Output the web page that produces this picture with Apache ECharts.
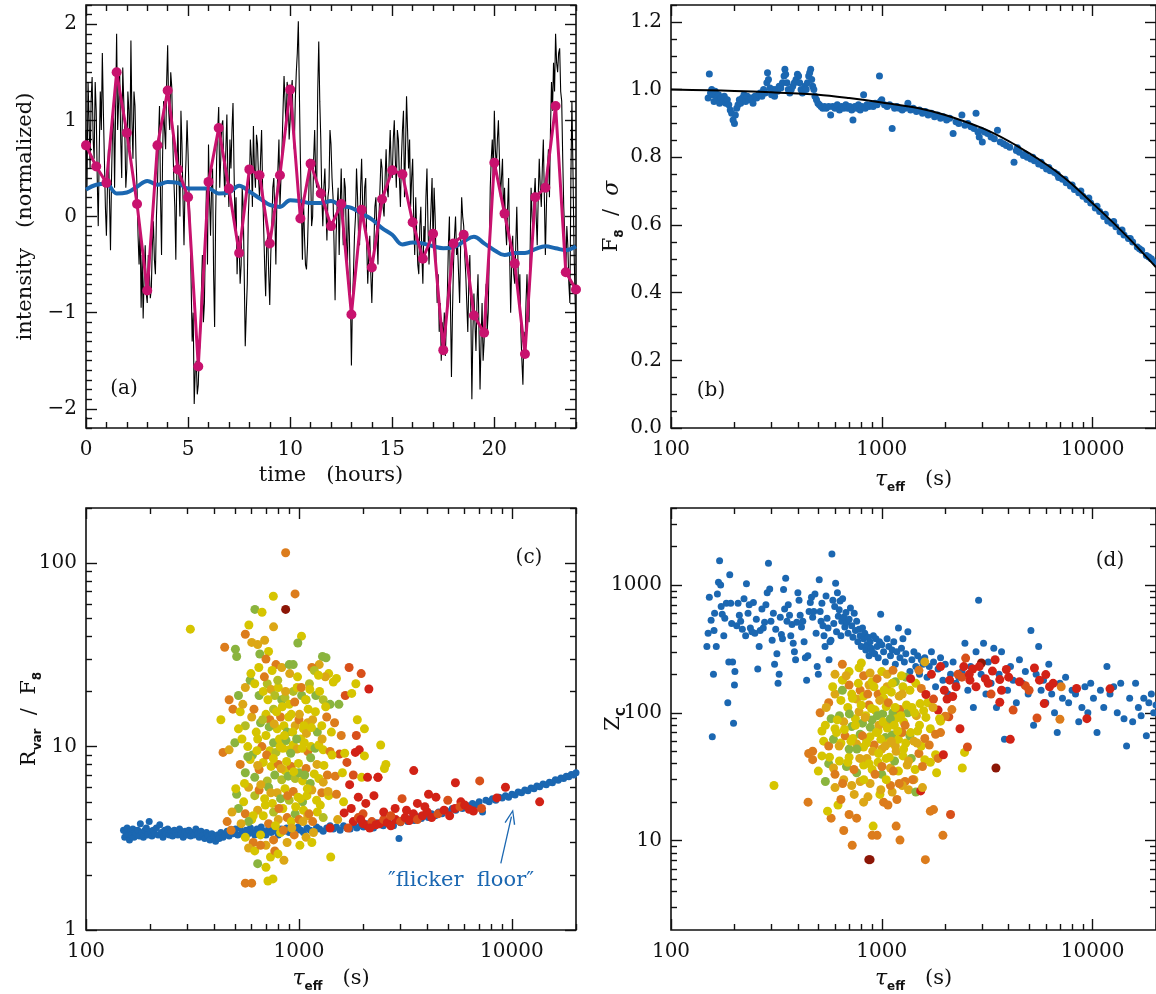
<!DOCTYPE html>
<html><head><meta charset="utf-8">
<script src="https://cdn.jsdelivr.net/npm/echarts@6/dist/echarts.min.js"></script>
<style>html,body{margin:0;padding:0;background:#fff}#c{width:1156px;height:994px}</style>
</head><body><div id="c"></div>
<script>
// ---------- DATA ----------
// (a) light curve sampled every 0.05 h
const lcStep = 0.05;
const lcBlack = [
0.9,0.3,1.4,1.0,0.5,1.2,1.45,0.8,0.6,1.4,1.1,0.4,-0.1,0.7,1.3,0.9,1.7,1.1,0.6,0.1,
-0.2,0.3,0.7,0.2,-0.35,0.4,0.9,1.2,0.3,1.1,1.9,0.9,1.2,1.5,0.8,0.4,1.55,1.2,0.9,0.3,
0.5,1.3,1.1,0.7,1.83,1.0,0.6,1.3,1.15,0.6,0.3,-0.2,-0.5,-0.1,-0.95,-0.4,-1.06,-0.6,-0.3,-0.8,
-0.9,-0.4,-0.55,-0.85,-0.75,-0.3,-0.05,-0.45,-0.6,0.0,0.3,0.8,1.15,0.2,-0.4,0.6,1.2,0.9,0.7,1.4,
1.78,1.1,0.9,1.5,1.35,0.8,0.4,0.1,-0.45,0.5,0.95,0.4,0.0,1.1,0.75,0.2,-0.3,0.3,0.6,1.0,
0.65,0.2,-0.1,-0.7,-1.3,-1.0,-1.95,-1.6,-1.5,-1.85,-1.75,-1.4,-1.3,-0.8,-0.4,-1.1,-0.9,-0.2,0.3,-0.5,
0.75,0.2,-0.2,0.3,0.5,-0.6,-1.15,0.0,0.6,0.9,1.14,0.3,0.6,0.95,1.0,0.5,0.2,0.7,1.06,0.4,
0.1,0.8,0.5,0.9,1.18,0.5,-0.1,0.2,-0.6,-0.2,-0.3,-0.7,-0.5,0.3,0.1,-0.6,-1.35,-1.0,-0.7,0.0,
0.3,0.8,0.6,0.1,0.94,0.5,0.3,0.85,0.75,0.4,0.2,0.6,0.9,0.3,-0.1,-0.5,-0.83,-0.3,-0.2,-0.6,
-0.92,-0.4,-0.1,0.3,0.4,0.0,-0.5,0.2,0.5,0.8,0.1,0.4,0.7,1.1,1.46,1.2,0.9,1.4,1.3,0.8,
1.0,1.3,1.42,0.9,0.7,1.2,1.5,1.7,2.03,1.3,0.6,0.1,-0.45,0.2,-0.2,-0.5,-0.55,-0.3,0.1,0.6,
0.5,-0.1,0.0,0.6,0.9,0.4,0.3,1.3,1.82,1.2,0.8,0.2,-0.1,0.3,0.5,0.1,-0.25,0.2,0.3,0.9,
0.75,0.4,0.2,-0.3,-0.87,-0.2,0.1,0.3,-0.4,0.1,0.5,0.0,-0.3,0.4,0.3,-0.2,-0.6,0.1,-0.2,-0.8,
-1.55,-0.9,-0.6,-0.2,0.0,0.5,0.2,-0.2,-0.3,0.3,0.6,0.1,-0.1,0.3,0.4,-0.3,-0.7,-0.4,-0.2,-0.6,
-0.9,-0.5,-0.3,0.1,0.2,-0.2,-0.5,0.0,0.3,0.6,0.5,0.1,0.0,0.4,0.7,0.3,0.2,0.6,0.9,0.5,
0.4,0.8,1.0,0.6,0.3,0.9,0.8,0.4,0.1,0.6,0.9,1.1,0.2,0.7,1.25,0.9,0.5,0.8,0.1,0.4,
0.6,0.0,-0.4,0.2,-0.2,-0.5,-0.6,-0.1,0.1,-0.4,-0.7,-0.1,-0.3,0.2,0.5,-0.1,-0.5,-0.2,0.1,0.4,
-0.3,0.3,0.0,-0.5,-0.9,-0.6,-1.2,-0.9,-1.5,-1.1,-1.3,-1.0,-1.45,-1.1,-0.8,-0.3,0.0,-0.9,-1.67,-1.0,
-0.5,-0.2,0.0,-0.4,-0.3,-0.6,-0.9,-0.3,0.2,0.0,-0.1,-0.4,-0.6,-0.9,-1.2,-0.7,-0.4,-1.0,-1.9,-1.2,
-0.8,-1.1,-1.4,-0.9,-0.6,-1.2,-1.8,-1.3,-0.9,-1.5,-1.3,-0.9,-0.7,-1.2,-1.0,-0.4,0.3,0.6,0.8,0.4,
1.1,0.7,0.5,0.8,1.0,0.6,0.2,0.4,0.6,0.0,0.3,-0.1,-0.3,0.1,0.4,-0.4,-1.0,-0.5,-0.2,-0.6,
-0.7,-0.3,0.1,-0.4,-0.9,-0.6,-1.2,-1.5,-1.75,-1.2,-1.4,-0.9,-0.6,-1.0,-1.1,-0.4,0.3,0.0,-0.2,0.2,
0.4,0.0,-0.3,0.2,0.6,0.3,0.1,0.5,0.8,0.2,-0.4,0.1,0.5,0.7,0.2,0.9,1.4,1.1,1.6,1.3,
1.9,1.6,1.5,1.7,1.75,1.3,1.2,0.6,0.1,-0.2,-0.6,-0.1,-0.3,-0.7,-0.9,0.4,1.2,0.5,-0.3,-0.8,
-1.2];
// (a) half-hour binned values and smooth trend, every 0.5 h
const binStep = 0.5;
const lcBinned = [0.74,0.52,0.35,1.50,0.87,0.13,-0.77,0.74,1.31,0.49,0.20,-1.56,0.36,0.92,0.29,-0.38,0.49,0.43,-0.28,0.43,1.32,-0.02,0.55,0.24,-0.10,0.13,-1.02,0.07,-0.53,0.18,0.48,0.44,-0.06,-0.44,-0.18,-1.39,-0.28,-0.19,-1.03,-1.21,0.56,0.03,-0.49,-1.43,0.20,0.30,1.15,-0.58,-0.76];
const lcTrend = [0.28,0.33,0.34,0.24,0.25,0.31,0.37,0.33,0.36,0.35,0.29,0.29,0.29,0.24,0.25,0.32,0.26,0.19,0.12,0.10,0.17,0.16,0.14,0.14,0.16,0.11,0.09,0.03,-0.03,-0.12,-0.19,-0.29,-0.27,-0.28,-0.31,-0.33,-0.32,-0.26,-0.21,-0.28,-0.35,-0.40,-0.38,-0.38,-0.34,-0.31,-0.33,-0.35,-0.31];

// (b) F8/sigma vs tau_eff
const bPoints = [[150,0.975],[152,1.046],[154,0.99],[156,1.0],[158,0.985],[160,0.965],[162,0.995],[165,0.97],[168,0.985],[170,0.96],[173,0.975],[176,0.965],[179,0.98],[182,0.96],[185,0.97],[188,0.955],[191,0.94],[194,0.93],[197,0.91],[200,0.90],[202,0.925],[205,0.945],[208,0.955],[211,0.97],[214,0.96],[218,0.975],[222,0.985],[226,0.965],[230,0.98],[235,0.97],[240,0.975],[245,0.96],[250,0.98],[255,0.975],[260,0.985],[265,0.99],[270,0.98],[275,1.0],[280,0.99],[285,1.02],[287,1.05],[290,1.03],[295,1.005],[300,0.985],[305,1.0],[310,0.98],[315,1.0],[320,0.995],[326,1.01],[332,1.005],[338,1.02],[344,1.04],[347,1.06],[350,1.045],[355,1.02],[360,1.0],[366,0.99],[372,1.0],[378,1.01],[385,1.02],[392,1.03],[398,1.045],[403,1.04],[408,1.02],[414,1.0],[420,0.99],[426,1.0],[432,1.01],[438,1.0],[444,1.02],[450,1.04],[455,1.05],[460,1.06],[465,1.03],[470,1.01],[476,1.0],[482,0.98],[490,0.97],[498,0.96],[506,0.955],[515,0.95],[525,0.945],[535,0.95],[545,0.945],[560,0.95],[572,0.925],[585,0.95],[600,0.945],[615,0.955],[630,0.94],[645,0.95],[660,0.945],[675,0.955],[690,0.945],[705,0.95],[720,0.94],[730,0.91],[745,0.95],[760,0.945],[775,0.955],[790,0.94],[805,0.95],[820,0.985],[835,0.945],[850,0.955],[870,0.95],[890,0.955],[910,0.95],[930,0.96],[950,0.955],[975,1.04],[985,0.965],[1000,0.97],[1030,0.955],[1060,0.95],[1090,0.955],[1120,0.885],[1150,0.945],[1180,0.95],[1210,0.945],[1250,0.94],[1290,0.945],[1330,0.96],[1370,0.94],[1410,0.945],[1460,0.935],[1510,0.94],[1560,0.93],[1610,0.935],[1660,0.925],[1720,0.93],[1780,0.92],[1840,0.925],[1900,0.915],[1960,0.92],[2030,0.91],[2100,0.915],[2180,0.87],[2250,0.905],[2320,0.9],[2400,0.925],[2480,0.895],[2560,0.9],[2650,0.89],[2740,0.885],[2800,0.93],[2860,0.875],[2900,0.86],[2960,0.88],[3000,0.845],[3080,0.875],[3180,0.87],[3300,0.86],[3420,0.855],[3540,0.88],[3650,0.845],[3780,0.84],[3900,0.835],[4050,0.83],[4240,0.785],[4350,0.82],[4500,0.815],[4700,0.805],[4900,0.8],[5100,0.795],[5300,0.79],[5550,0.78],[5800,0.775],[6050,0.765],[6300,0.76],[6600,0.755],[6900,0.74],[7200,0.735],[7500,0.725],[7850,0.715],[8200,0.705],[8600,0.695],[9000,0.685],[9400,0.675],[9800,0.665],[10300,0.65],[10800,0.64],[11300,0.625],[11800,0.612],[12300,0.605],[12900,0.595],[13500,0.58],[14100,0.57],[14800,0.56],[15500,0.55],[16300,0.535],[17100,0.525],[18000,0.51],[19000,0.5],[20000,0.49],
[4400,0.828],[4800,0.81],[5200,0.8],[5700,0.785],[6200,0.77],[6800,0.75],[7400,0.735],[8000,0.718],[8800,0.7],[9600,0.68],[10500,0.655],[11500,0.632],[12600,0.61],[13800,0.585],[15100,0.56],[16700,0.53],[18500,0.505]];
const bCurve = [[100,1.0],[150,0.998],[200,0.996],[300,0.992],[500,0.985],[700,0.975],[1000,0.962],[1500,0.945],[2000,0.925],[3000,0.886],[4000,0.848],[5000,0.812],[6000,0.78],[7000,0.75],[8000,0.72],[10000,0.664],[12000,0.618],[15000,0.558],[20000,0.475]];

// (c) Rvar/F8 vs tau_eff : flicker floor (blue) and colored stars [tau, value, colour class 0..7]
const cFloor = [[150,3.5],[152,3.2],[154,3.4],[156,3.6],[158,3.3],[160,3.1],[162,3.45],[164,3.3],[166,3.55],[168,3.2],[170,3.4],[172,3.35],[175,3.5],[178,3.25],[180,3.8],[183,3.4],[186,3.2],[189,3.5],[192,3.6],[195,3.3],[198,3.9],[201,3.45],[204,3.25],[207,3.5],[210,3.35],[214,3.6],[218,3.3],[222,3.75],[226,3.4],[230,3.2],[234,3.5],[238,3.35],[242,3.55],[246,3.3],[250,3.45],[255,3.25],[260,3.5],[265,3.4],[270,3.3],[275,3.55],[280,3.35],[286,3.2],[292,3.45],[298,3.3],[304,3.5],[310,3.25],[316,3.4],[322,3.3],[328,3.55],[334,3.35],[340,3.2],[347,3.45],[354,3.3],[361,3.15],[368,3.4],[375,3.25],[382,3.1],[390,3.35],[398,3.2],[406,3.05],[414,3.3],[422,3.15],[430,3.4],[440,3.2],[450,3.3],[460,3.45],[470,3.25],[480,3.5],[492,3.35],[504,3.55],[516,3.3],[528,3.6],[540,3.4],[552,3.25],[565,3.5],[578,3.35],[592,3.6],[606,3.4],[620,3.3],[635,3.55],[650,3.4],[665,3.65],[680,3.45],[700,3.3],[720,3.55],[740,3.4],[760,3.6],[780,3.45],[800,3.3],[825,3.55],[850,3.45],[875,3.6],[900,3.4],[930,3.55],[960,3.45],[990,3.65],[1020,3.5],[1050,3.4],[1090,3.6],[1130,3.5],[1170,3.45],[1210,3.65],[1250,3.55],[1300,3.45],[1350,3.6],[1400,3.7],[1450,3.55],[1500,3.65],[1560,3.5],[1620,3.7],[1680,3.6],[1740,3.55],[1800,3.75],[1870,3.6],[1940,3.7],[2010,3.65],[2080,3.8],[2160,3.7],[2240,3.6],[2320,3.85],[2400,3.75],[2490,3.7],[2580,3.9],[2680,3.8],[2780,3.7],[2880,3.95],[2950,3.15],[3000,3.85],[3120,4.0],[3240,3.9],[3360,4.05],[3480,3.95],[3620,4.15],[3760,4.05],[3900,4.2],[4050,4.1],[4200,4.3],[4360,4.2],[4530,4.4],[4700,4.3],[4880,4.5],[5060,4.4],[5250,4.6],[5450,4.5],[5650,4.7],[5860,4.6],[6080,4.8],[6300,4.75],[6530,4.9],[6770,4.8],[7020,5.0],[7280,4.4],[7550,5.1],[7820,5.0],[8100,5.2],[8400,5.1],[8700,5.3],[9000,5.25],[9330,5.4],[9650,5.3],[10000,5.5],[10350,5.45],[10700,5.65],[11100,5.6],[11500,5.8],[11900,5.75],[12300,5.95],[12700,5.9],[13100,6.1],[13500,6.05],[14000,6.25],[14500,6.2],[15000,6.4],[15500,6.35],[16000,6.6],[16500,6.55],[17000,6.75],[17500,6.7],[18000,6.9],[18500,6.85],[19000,7.05],[19500,7.0],[20000,7.2]];
const cStars = [[309,43.7,2],[866,114,4],[866,56,7],[758,66,2],[959,68,4],[621,56,0],[671,54,2],[582,46,2],[760,45,3],[1028,40,2],[988,36.7,0],[448,34.8,4],[503,34,0],[510,31,0],[1290,31,0],[1340,30.5,0],[1245,28,3],[560,41,4],[600,37,3],[640,36,3],[690,38,3],[720,33,2],[655,32,0],[700,30,4],[780,28,4],[830,27,3],[900,28,0],[940,28,0],[1150,27,4],[1180,26,1],[1380,25,2],[1500,23.5,2],[1720,27,5],[1960,25,5],[2130,20.6,6],[1650,19,5],[1770,19.5,2],[1850,22,2],
[470,18,4],[520,19,0],[560,21,3],[590,23,0],[620,22,2],[650,19,0],[680,20,2],[710,22,1],[740,20.5,3],[770,19,1],[800,21,2],[830,18,0],[860,18.5,1],[900,17,2],[940,20,1],[980,21,2],[1030,19,0],[1080,18,0],[1120,22,1],[1200,19,0],[1250,20,2],[1300,18,1],[1400,17,0],[1450,22.5,2],[1540,17,0],[1330,24,3],
[430,14,2],[490,16,4],[530,15.5,2],[560,13,1],[600,14.5,3],[630,12,2],[660,13.5,0],[700,15,2],[730,14,4],[760,16,1],[790,12.5,2],[820,14.5,4],[850,13,2],[880,12,0],[920,15,2],[960,13,3],[1000,14,4],[1050,12.5,2],[1100,13.5,3],[1160,14,3],[1220,12,0],[1280,13,2],[1350,14.5,4],[1420,12,2],[1880,14,2],[2030,12.5,2],[1860,11.5,5],
[440,9.3,4],[470,9.6,3],[500,10.5,0],[540,11,2],[575,10,2],[605,9,0],[640,11,2],[670,10,4],[700,11.5,2],[730,9.5,2],[760,10.5,0],[780,9.3,1],[810,11,2],[840,9.8,2],[870,10.8,0],[900,9.6,2],[940,10.2,2],[980,9.7,3],[1020,11,2],[1060,10.5,2],[1100,9.4,4],[1140,10,2],[1190,9.8,0],[1240,10.2,2],[1300,9.6,2],[1400,9.4,4],[1550,9.1,5],[1640,9.2,2],[1920,9.6,6],[2030,8.9,2],[2420,10.2,2],[2560,8.0,2],[2520,7.6,2],
[530,8,4],[560,7.2,0],[590,8.5,2],[620,6.8,0],[650,7.5,4],[680,8.2,2],[710,6.5,1],[740,7.8,2],[770,7.0,0],[800,8,4],[830,6.6,1],[860,7.4,2],[890,6.9,0],[920,7.8,4],[960,6.7,1],[1000,7.2,0],[1040,6.5,2],[1080,7.6,4],[1130,6.3,0],[1180,7.1,2],[1240,6.7,2],[1300,6.4,3],[1360,7.0,4],[1480,6.9,4],[1600,7.2,2],[1800,7.0,5],[1970,6.8,2],[2100,6.8,6],[2350,6.8,6],
[510,5.5,0],[550,5.0,2],[580,6.0,3],[620,5.4,1],[650,5.8,4],[690,5.2,2],[720,6.0,0],[750,4.9,2],[790,5.6,3],[820,5.2,0],[860,5.9,2],[900,5.1,1],[940,5.7,4],[990,5.3,2],[1040,5.0,0],[1090,5.4,2],[1150,5.8,3],[1210,5.1,2],[1280,5.6,4],[1380,5.4,2],[1500,5.5,4],[1620,5.0,2],[1730,6.2,6],[1900,5.3,6],
[520,4.6,0],[560,4.3,4],[600,4.0,2],[640,4.5,3],[680,4.2,2],[720,3.8,4],[760,4.4,1],[800,4.0,3],[840,4.6,2],[880,4.1,4],[920,3.9,2],[960,4.3,0],[1000,4.0,4],[1050,4.5,2],[1100,4.2,3],[1160,3.9,4],[1220,4.4,2],[1300,4.1,1],[1400,3.6,6],[1630,4.35,6],
[480,3.5,4],[560,3.2,2],[610,3.0,4],[660,3.3,2],[700,2.9,3],[760,3.1,4],[820,3.4,2],[880,3.0,3],[950,3.3,4],[1010,2.9,2],[1080,3.2,3],[1150,3.0,2],
[580,2.8,3],[620,2.7,2],[660,2.9,4],[700,2.2,2],[735,2.5,2],[770,2.7,4],[797,2.6,2],[850,2.4,3],[1410,2.5,2],[640,2.3,0],[560,1.8,4],[600,1.8,4],[715,1.85,2],[755,1.9,2],
[520,12.5,2],[545,17,3],[575,8.8,0],[595,25,2],[615,16,4],[635,9.5,2],[648,27,2],[662,6.2,3],[675,14,1],[688,24,4],[695,4.8,2],[705,9.0,4],[715,18,2],[725,12.8,0],[738,5.6,3],[748,26,2],[758,8.6,2],[765,13.3,3],[775,3.7,2],[785,15.5,2],[795,23,1],[805,4.6,4],[815,10.0,2],[825,7.6,3],[835,16.5,2],[845,3.5,4],[855,11.5,2],[865,20,3],[875,8.3,2],[885,5.4,4],[895,14.5,2],[905,25,3],[915,9.2,0],[925,3.6,3],[935,12,2],[945,7.3,2],[955,17.5,4],[965,4.7,2],[975,11,0],[985,24,2],[995,8.1,2],[1005,15,3],[1015,5.2,2],[1025,21,4],[1035,9.8,2],[1045,3.9,3],[1055,13,2],[1065,7.0,0],[1075,18,2],[1085,11.8,3],[1095,5.9,2],[1105,16,2],[1115,4.3,4],[1125,20.5,2],[1135,8.7,0],[1145,12.7,2],[1170,3.4,3],[1195,15.5,2],[1215,8.0,3],[1235,24.5,2],[1260,4.8,2],[1285,11,3],[1310,7.9,2],[1335,16.5,2],[1370,5.7,3],[1430,9.0,2],[1470,13.5,4],[1520,4.0,3],[1580,11.5,4],[1680,8.2,5],[1760,4.6,6],[1840,9.3,6],[2060,4.9,6],[2250,5.4,6],[640,7.9,3],[610,4.2,2],[580,3.9,0],[555,6.3,2],[535,3.8,3],[505,5.9,2],[485,4.4,3],[460,3.9,4],
[3460,7.4,6],[7060,6.5,5],[5430,6.35,6],[9330,6.0,6],[13500,5.0,6],[8500,5.25,6],[2350,6.8,6],[4060,5.5,6],[4400,5.3,6],[5000,5.1,5],[5760,5.0,6],[2830,4.6,6],[3050,5.2,5],[3600,4.9,6],[7200,4.6,5],[6600,4.45,6],[1800,3.9,6],[1900,4.1,5],[2000,3.8,6],[2100,3.7,6],[2200,3.9,5],[2300,3.75,6],[2400,3.8,6],[2500,4.0,5],[2600,3.85,6],[2700,3.7,6],[2850,4.0,6],[3000,3.9,5],[3150,4.1,6],[3300,3.95,6],[3450,4.3,6],[3600,4.0,5],[3800,4.2,6],[4000,4.4,6],[4200,4.1,6],[4500,4.3,5],[4800,4.5,6],[5100,4.2,6],[5400,4.6,6],[5700,4.7,5],[6000,4.8,6],[6300,4.55,6],[2000,4.3,5],[2500,4.4,6],[3200,4.5,6],[3900,4.7,6],[1950,4.0,6],[2700,4.2,5],[1700,3.6,5],[2150,3.6,6]];

// (d) Z_C vs tau_eff
const dBlue = [[148,330],[150,420],[152,800],[155,530],[157,65],[159,200],[160,440],[161,600],[164,330],[166,850],[168,1050],[170,1550],[172,1000],[173,680],[175,590],[178,400],[180,550],[183,720],[186,120],[188,250],[190,1200],[192,720],[194,500],[196,250],[198,83],[200,165],[201,210],[205,480],[208,720],[211,580],[214,520],[218,450],[222,780],[226,400],[228,1020],[232,600],[235,700],[238,460],[242,430],[246,730],[250,420],[254,540],[258,220],[262,330],[265,440],[270,650],[274,460],[278,510],[282,700],[286,870],[290,1480],[294,930],[298,520],[302,370],[306,600],[310,240],[314,450],[318,290],[322,170],[326,200],[330,560],[334,410],[338,380],[342,920],[346,650],[350,1130],[355,520],[360,700],[365,580],[370,400],[375,490],[380,350],[385,300],[390,260],[395,510],[400,870],[405,760],[410,580],[416,470],[422,520],[428,360],[434,270],[440,180],[446,280],[452,620],[458,730],[464,800],[470,560],[476,620],[482,850],[488,420],[494,230],[500,200],[505,1100],[510,620],[515,520],[520,720],[526,480],[532,400],[538,330],[544,820],[550,550],[556,460],[562,260],[568,360],[574,370],[580,1750],[586,760],[592,500],[598,680],[604,1030],[610,430],[616,870],[622,570],[628,640],[634,750],[640,400],[646,520],[652,780],[660,560],[668,470],[676,610],[684,510],[692,420],[700,540],[710,660],[720,480],[730,390],[740,600],[750,440],[760,520],[770,360],[780,450],[790,400],[800,330],[810,460],[820,380],[830,420],[840,310],[850,340],[860,390],[870,280],[880,360],[890,320],[900,300],[912,400],[925,290],[938,380],[950,330],[962,270],[975,360],[988,590],[1000,340],[1020,300],[1040,250],[1060,380],[1080,330],[1100,280],[1120,310],[1140,360],[1160,240],[1180,300],[1200,460],[1220,270],[1240,320],[1260,380],[1280,250],[1300,290],[1330,430],[1360,210],[1390,260],[1420,300],[1450,230],[1480,280],[1510,200],[1540,260],[1570,240],[1600,270],[1640,190],[1680,230],[1720,300],[1760,250],[1800,160],[1850,220],[1900,270],[1950,180],[2000,240],[2060,140],[2120,200],[2180,250],[2250,170],[2320,190],[2400,210],[2480,350],[2560,150],[2640,230],[2720,110],[2800,300],[2880,760],[2960,200],[3040,350],[3120,140],[3200,250],[3300,170],[3400,320],[3500,110],[3600,200],[3700,300],[3820,62],[3950,150],[4080,230],[4200,180],[4350,120],[4500,260],[4650,170],[4800,210],[4950,140],[5100,440],[5250,80],[5400,200],[5550,330],[5700,150],[5850,180],[6000,120],[6200,240],[6400,140],[6600,100],[6800,70],[7000,170],[7200,130],[7450,190],[7700,120],[8000,150],[8300,140],[8600,85],[8900,110],[9200,160],[9500,100],[9800,170],[10100,130],[10500,70],[10900,150],[11300,110],[11700,230],[12100,140],[12600,160],[13100,100],[13600,170],[14100,90],[14500,55],[15000,130],[15500,85],[16000,170],[16500,110],[17000,95],[17500,130],[18000,66],[18500,120],[19000,140],[19500,100],[20000,115]];
const dStars = [[308,27,2],[447,20,4],[868,7.1,7],[880,7.1,7],[1610,7.1,4],[724,9.2,4],[900,11,4],[950,11,4],[1220,10.1,4],[1950,11,4],[2120,16,5],[1760,17.5,4],[1700,17,4],[1170,13,4],[910,13,2],[660,12,4],[575,15,4],[553,17,2],[620,19,2],[700,16,4],[760,15,4],[820,20,3],[1020,20,4],[1070,19,4],[1180,21,4],[860,22,3],[740,23,3],[640,21,4],[980,23,2],[1120,24,3],[1340,25,3],[1450,24,0],[1530,24.5,6],[1560,26,3],[1420,30,3],[1290,29,4],[1250,27,3],[1100,27,4],[990,25,3],[880,28,3],[790,29,3],[720,27,3],[660,30,3],[600,26,3],[540,29,0],[500,35,2],[470,43,4],[450,48,4],[470,50,4],[520,46,2],[560,40,0],[590,37,3],[630,42,2],[680,38,0],[700,45,2],[760,34,0],[820,39,2],[850,44,3],[900,36,2],[960,41,2],[1000,33,0],[1050,44,2],[1100,37,3],[1150,42,0],[1200,35,2],[1260,46,2],[1320,39,3],[1380,44,0],[1440,36,2],[1500,48,4],[1600,43,2],[1700,41,2],[1800,47,2],[1850,44,4],[2410,37,2],[2470,49,2],[2550,54,5],[3480,37,7],[4070,62,6],[2350,75,6],[2080,93,5],[1960,47,6],[530,60,2],[560,55,4],[590,62,0],[610,70,2],[640,58,2],[670,66,4],[700,52,0],[730,63,2],[760,57,3],[790,68,0],[820,54,2],[850,61,0],[880,65,2],[920,56,4],[960,72,2],[1000,52,3],[1040,64,0],[1080,58,2],[1120,67,0],[1160,55,3],[1200,62,2],[1250,70,4],[1300,58,2],[1360,66,0],[1420,60,3],[1480,72,2],[1540,55,2],[1600,63,4],[1700,75,2],[1800,68,4],[1900,86,2],[2000,94,4],[1850,105,6],[1880,90,2],[510,100,4],[540,80,2],[575,90,0],[600,75,2],[630,95,0],[660,85,3],[690,110,2],[720,78,0],[750,90,2],[780,102,3],[810,83,0],[840,95,2],[870,115,4],[900,88,0],[930,105,2],[970,80,3],[1010,98,0],[1050,112,2],[1090,86,3],[1130,100,0],[1170,90,2],[1220,106,4],[1270,85,2],[1330,100,0],[1390,110,2],[1460,95,3],[1520,118,2],[1580,104,2],[1650,120,2],[1760,128,5],[2040,128,6],[2150,106,4],[560,120,4],[600,140,3],[650,150,0],[700,165,4],[720,140,2],[760,128,3],[790,150,4],[820,135,2],[870,165,3],[900,175,2],[960,140,4],[1020,130,2],[1060,160,3],[1110,145,2],[1160,175,0],[1210,135,3],[1260,160,2],[1300,190,0],[1360,150,2],[1450,170,2],[1540,155,4],[1620,139,6],[600,200,3],[650,180,2],[700,210,2],[780,225,2],[820,195,4],[880,205,3],[950,185,4],[1000,210,2],[1060,200,3],[1130,215,4],[1240,195,2],[1370,185,6],[1720,200,6],[1900,230,6],[2450,230,6],[2500,268,5],[2970,245,7],[3450,260,6],[2620,180,6],[2800,160,6],[3350,212,6],[3630,182,6],[3900,218,6],[3630,121,6],[4200,105,5],[4800,163,5],[5300,224,6],[6000,199,6],[5900,118,6],[5450,91,5],[6250,160,6],[7000,89,4],[7100,160,4],[8400,155,6],[9400,90,6],[12100,154,6],[2170,134,6],[2300,200,5],[2700,220,6],[3100,185,6],[3300,140,5],[4000,190,6],[4500,175,6],[5000,150,5],[5600,180,6],[6500,170,6],[1500,215,4],[650,240,4],[800,245,2],[1600,250,3],
[520,72,2],[545,110,3],[565,45,2],[585,160,2],[600,33,4],[615,88,2],[628,55,3],[640,125,2],[652,28,4],[665,74,2],[678,195,3],[690,41,2],[702,98,0],[714,60,2],[726,130,2],[738,36,4],[750,80,2],[762,52,0],[774,170,2],[786,44,3],[798,115,2],[810,66,4],[822,30,2],[834,92,3],[846,58,2],[858,140,4],[870,40,2],[882,77,0],[894,108,2],[906,50,3],[918,160,2],[930,33,4],[942,70,2],[954,95,0],[966,48,2],[978,125,3],[990,62,2],[1002,38,4],[1014,85,2],[1026,150,2],[1038,55,3],[1050,30,2],[1062,76,2],[1074,120,4],[1086,45,2],[1098,90,0],[1110,60,3],[1122,170,2],[1134,35,4],[1146,80,2],[1158,110,2],[1170,50,3],[1190,72,2],[1210,28,4],[1230,95,2],[1250,140,3],[1270,52,2],[1290,80,4],[1310,115,2],[1340,42,3],[1370,70,2],[1400,30,4],[1430,100,2],[1470,58,3],[1510,80,2],[1560,38,4],[1620,92,2],[1680,56,4],[1750,110,3],[1820,34,2],[1900,70,4],[1980,150,6],[2100,180,6],[2250,160,6],[2400,190,5],[2600,200,6],[2900,230,6],[3200,170,6],[3700,150,6]];

// tick labels
const aXTicks = [0,5,10,15,20];
const aYTicks = [-2,-1,0,1,2];
const bYTicks = [0,0.2,0.4,0.6,0.8,1.0,1.2];
const tauTicks = [100,1000,10000];
const cYTicks = [1,10,100];
const dYTicks = [10,100,1000];

// ---------- STYLE ----------
const FONT = 'DejaVu Serif';
const INK = '#111';
const BLUE = '#1b67b1';
const MAGENTA = '#c8126e';
const PALETTE = ['#8ab43e','#b3bd24','#d6c500','#dca716','#dc7c1c','#d8501a','#d22216','#8c1606'];

const grids = [
  {left:86, top:5, width:490, height:423},
  {left:671, top:5, width:486, height:423},
  {left:86, top:508, width:490, height:423},
  {left:671, top:508, width:486, height:423}
].map(g => Object.assign(g, {show:true, borderColor:INK, borderWidth:1.6, backgroundColor:'transparent'}));

const xAxes = [], yAxes = [];
const lg = Math.log10;
function range(a, b, s){ const r=[]; for(let v=a; v<=b+1e-9; v+=s) r.push(+v.toFixed(6)); return r; }
function logMinors(min, max){ const r=[]; for(let d=1; d<=1e5; d*=10) for(let k=2;k<=9;k++){ const v=k*d; if(v>min && v<max+1e-9) r.push(lg(v)); } return r; }

const richName = {
  t:{fontFamily:FONT, fontSize:21, color:INK, lineHeight:28},
  g:{fontFamily:FONT, fontSize:22, fontStyle:'italic', color:INK, lineHeight:28},
  s:{fontFamily:'DejaVu Sans', fontSize:12, fontWeight:'bold', color:INK, lineHeight:10, verticalAlign:'bottom'}
};

function makeAxes(dim, g, spec){
  const list = dim==='x' ? xAxes : yAxes;
  const isLog = spec.type==='log';
  const dataIdx = list.length;
  list.push({type:spec.type, gridIndex:g, min:spec.min, max:spec.max, show:false, logBase:10, axisLine:{show:false, onZero:false}});
  const tmin = isLog ? lg(spec.min) : spec.min;
  const tmax = isLog ? lg(spec.max) : spec.max;
  const major = spec.major.map(v => isLog ? lg(v) : v);
  const minor = isLog ? logMinors(spec.min, spec.max) : spec.minor;
  const sides = dim==='x' ? ['bottom','top'] : ['left','right'];
  sides.forEach((side, si) => {
    [[major, 11, true], [minor, 6, false]].forEach(([vals, len, isMajor]) => {
      const ax = {
        type:'value', gridIndex:g, min:tmin, max:tmax, position:side,
        axisLine:{show:false, onZero:false}, splitLine:{show:false},
        axisTick:{show:true, inside:true, length:len, customValues:vals, lineStyle:{color:INK, width:1.4}},
        axisLabel:{show:false}
      };
      if (si===0 && isMajor) {
        ax.axisLabel = {show:true, customValues:major, margin: dim==='x'?12:9,
          fontFamily:FONT, fontSize:20, color:INK,
          formatter: v => spec.fmt(isLog ? Math.round(Math.pow(10, v)) : v)};
        ax.name = spec.name; ax.nameLocation='middle'; ax.nameGap = spec.nameGap; ax.nameMoveOverlap = false;
        ax.nameTextStyle = {fontFamily:FONT, fontSize:21, color:INK, rich:richName};
      }
      list.push(ax);
    });
  });
  return dataIdx;
}

const minus = v => (v<0 ? '\u2212'+Math.abs(v) : String(v));
const tauName = '{g|\u03c4}{s|eff}{t|   (s)}';

const ax = [];
ax[0] = {x: makeAxes('x',0,{type:'value',min:0,max:24,major:aXTicks,minor:range(0,24,1).filter(v=>v%5!==0),fmt:String,name:'time   (hours)',nameGap:37}),
         y: makeAxes('y',0,{type:'value',min:-2.2,max:2.2,major:aYTicks,minor:range(-2.2,2.2,0.1).filter(v=>Math.abs(v-Math.round(v))>1e-6),fmt:minus,name:'intensity   (normalized)',nameGap:50})};
ax[1] = {x: makeAxes('x',1,{type:'log',min:100,max:20000,major:tauTicks,fmt:String,name:tauName,nameGap:38}),
         y: makeAxes('y',1,{type:'value',min:0,max:1.25,major:bYTicks,minor:range(0,1.25,0.05).filter(v=>Math.abs(v*5-Math.round(v*5))>1e-6),fmt:v=>v.toFixed(1),name:'{t|F}{s|8}{t|  /  }{g|\u03c3}',nameGap:45})};
ax[2] = {x: makeAxes('x',2,{type:'log',min:100,max:20000,major:tauTicks,fmt:String,name:tauName,nameGap:35}),
         y: makeAxes('y',2,{type:'log',min:1,max:200,major:cYTicks,fmt:String,name:'{t|R}{s|var}{t|  /  F}{s|8}',nameGap:42})};
ax[3] = {x: makeAxes('x',3,{type:'log',min:100,max:20000,major:tauTicks,fmt:String,name:tauName,nameGap:35}),
         y: makeAxes('y',3,{type:'log',min:2,max:4000,major:dYTicks,fmt:String,name:'{t|Z}{s|C}',nameGap:43})};

const starColor = p => PALETTE[p.value[2]];
const series = [
  {type:'line', xAxisIndex:ax[0].x, yAxisIndex:ax[0].y, data: lcBlack.map((v,i)=>[i*lcStep, v]), showSymbol:false, lineStyle:{color:'#000', width:1.1}, z:2},
  {type:'line', xAxisIndex:ax[0].x, yAxisIndex:ax[0].y, data: lcTrend.map((v,i)=>[i*binStep, v]), smooth:0.4, showSymbol:false, lineStyle:{color:BLUE, width:4}, z:3},
  {type:'line', xAxisIndex:ax[0].x, yAxisIndex:ax[0].y, data: lcBinned.map((v,i)=>[i*binStep, v]), symbol:'circle', symbolSize:10, itemStyle:{color:MAGENTA}, lineStyle:{color:MAGENTA, width:3}, z:4},
  {type:'scatter', xAxisIndex:ax[1].x, yAxisIndex:ax[1].y, data:bPoints, symbolSize:7, itemStyle:{color:BLUE, opacity:1}},
  {type:'line', xAxisIndex:ax[1].x, yAxisIndex:ax[1].y, data:bCurve, smooth:0.3, showSymbol:false, lineStyle:{color:'#000', width:2}, z:4},
  {type:'scatter', xAxisIndex:ax[2].x, yAxisIndex:ax[2].y, data:cFloor, symbolSize:7, itemStyle:{color:BLUE, opacity:1},
    markLine:{silent:true, symbol:['none','path://M0,0 L6,14 L4.6,14.6 L0,3.2 L-4.6,14.6 L-6,14 Z'], symbolSize:[11,15],
      label:{show:false}, lineStyle:{color:BLUE, width:1.3, type:'solid'},
      data:[[{coord:[8870,2.31]},{coord:[9950,4.15]}]]}},
  {type:'scatter', xAxisIndex:ax[2].x, yAxisIndex:ax[2].y, data:cStars, symbolSize:9, itemStyle:{color:starColor, opacity:1}, z:3},
  {type:'scatter', xAxisIndex:ax[3].x, yAxisIndex:ax[3].y, data:dBlue, symbolSize:7, itemStyle:{color:BLUE, opacity:1}},
  {type:'scatter', xAxisIndex:ax[3].x, yAxisIndex:ax[3].y, data:dStars, symbolSize:9, itemStyle:{color:starColor, opacity:1}, z:3}
];

const txt = (x, y, text, fill, size) => ({type:'text', x, y, z:100,
  style:{text, fill:fill||INK, font:(size||20)+'px "'+FONT+'"', align:'center', verticalAlign:'middle'}});

const chart = echarts.init(document.getElementById('c'), null, {renderer:'canvas'});
chart.setOption({
  animation:false,
  backgroundColor:'#fff',
  grid: grids,
  xAxis: xAxes,
  yAxis: yAxes,
  series,
  graphic: [
    txt(124, 389, '(a)'), txt(711, 391, '(b)'), txt(529, 558, '(c)'), txt(1110, 561, '(d)'),
    txt(461, 881, '\u2033flicker  floor\u2033', BLUE, 21)
  ]
});
</script></body></html>
